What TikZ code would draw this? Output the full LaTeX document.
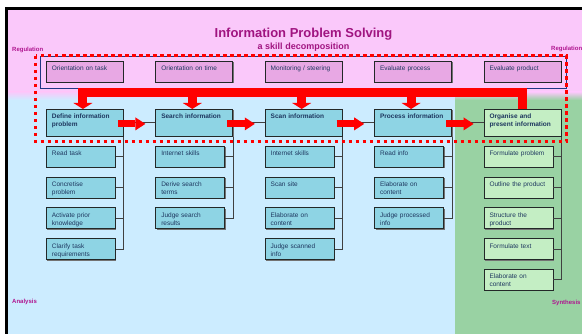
\documentclass[tikz,border=0pt]{standalone}
\usepackage{fontspec}
\setmainfont{Liberation Sans}
\usetikzlibrary{arrows.meta,shadows}
\definecolor{pinkbg}{RGB}{250,200,250}
\definecolor{bluebg}{RGB}{204,236,255}
\definecolor{greenbg}{RGB}{153,210,163}
\definecolor{mainblue}{RGB}{142,212,228}
\definecolor{regpink}{RGB}{232,168,228}
\definecolor{greenbox}{RGB}{196,238,196}
\definecolor{txtc}{RGB}{30,55,95}
\definecolor{titlec}{RGB}{160,20,128}
\definecolor{labelc}{RGB}{176,22,144}
\definecolor{navyc}{RGB}{30,55,130}
\definecolor{boxline}{RGB}{35,40,40}
\begin{document}
\begin{tikzpicture}[x=1pt,y=-1pt,
  box/.style={draw=boxline, line width=0.8pt, anchor=north west, inner xsep=5.5pt, inner ysep=4.5pt,
    align=left, font=\fontsize{6.5}{8}\selectfont, text=txtc, text height=5pt,
    drop shadow={shadow xshift=0.9pt,shadow yshift=-0.9pt,fill=black!55,opacity=1}},
  regbox/.style={box, fill=regpink, text width=66pt, text depth=7pt},
  mainbox/.style={box, fill=mainblue, text width=66pt, text depth=13pt, font=\fontsize{6.5}{8}\selectfont\bfseries},
  orgbox/.style={mainbox, fill=greenbox},
  subbox/.style={box, fill=mainblue, text width=58pt, text depth=7pt},
  gsubbox/.style={subbox, fill=greenbox},
  conn/.style={draw=black!75, line width=0.8pt},
  redarrow/.style={draw=red, line width=7pt, -{Triangle[width=13pt,length=10pt,line width=0pt]}},
  downarrow/.style={draw=red, line width=9pt, -{Triangle[width=19pt,length=6pt,line width=0pt]}},
  redbar/.style={draw=red, line width=9pt, line join=miter},
  sidelbl/.style={font=\fontsize{6}{7}\selectfont\bfseries, text=labelc, inner sep=0pt, anchor=base west}
]
\useasboundingbox (0,0) rectangle (582,334);
% background
\fill[white] (0,0) rectangle (582,334);
\fill[black] (5,7) rectangle (582,334);
\fill[pinkbg] (8,10) rectangle (582,92);
\shade[top color=pinkbg,bottom color=bluebg] (8,92) rectangle (455,100);
\fill[bluebg] (8,100) rectangle (455,334);
\shade[top color=pinkbg,bottom color=greenbg] (455,92) rectangle (582,100);
\fill[greenbg] (455,100) rectangle (582,334);

% titles and side labels
\node[font={\fontsize{13}{15}\selectfont\bfseries}, text=titlec, anchor=base, inner sep=0pt] (title) at (303.5,38) {Information Problem Solving};
\node[font={\fontsize{9}{11}\selectfont\bfseries}, text=titlec, anchor=base, inner sep=0pt] (subtitle) at (303.5,50) {a skill decomposition};
\node[sidelbl] (regl) at (12,52) {Regulation};
\node[sidelbl] (regr) at (551,51) {Regulation};
\node[sidelbl] (anal) at (12,304) {Analysis};
\node[sidelbl] (synt) at (552,305) {Synthesis};

% regulation frame
\draw[navyc, line width=0.8pt] (40,56) rectangle (566,88);

% regulation boxes
\node[regbox] (r1) at (46,61) {Orientation on task};
\node[regbox] (r2) at (155.4,61) {Orientation on time};
\node[regbox] (r3) at (264.8,61) {Monitoring / steering};
\node[regbox] (r4) at (374.2,61) {Evaluate process};
\node[regbox] (r5) at (483.6,61) {Evaluate product};

% main boxes
\node[mainbox] (def) at (46,109) {Define information\\problem};
\node[mainbox] (srch) at (155.4,109) {Search information};
\node[mainbox] (scan) at (264.8,109) {Scan information};
\node[mainbox] (proc) at (374.2,109) {Process information};
\node[orgbox] (org) at (483.6,109) {Organise and\\present information};

% sub boxes
\node[subbox] (d1) at (46,146) {Read task};
\node[subbox] (d2) at (46,177) {Concretise\\problem};
\node[subbox] (d3) at (46,207.5) {Activate prior\\knowledge};
\node[subbox] (d4) at (46,238.3) {Clarify task\\requirements};

\node[subbox] (s1) at (155.4,146) {Internet skills};
\node[subbox] (s2) at (155.4,177) {Derive search\\terms};
\node[subbox] (s3) at (155.4,207.5) {Judge search\\results};

\node[subbox] (c1) at (264.8,146) {Internet skills};
\node[subbox] (c2) at (264.8,177) {Scan site};
\node[subbox] (c3) at (264.8,207.5) {Elaborate on\\content};
\node[subbox] (c4) at (264.8,238.3) {Judge scanned\\info};

\node[subbox] (p1) at (374.2,146) {Read info};
\node[subbox] (p2) at (374.2,177) {Elaborate on\\content};
\node[subbox] (p3) at (374.2,207.5) {Judge processed\\info};

\node[gsubbox] (o1) at (483.6,146) {Formulate problem};
\node[gsubbox] (o2) at (483.6,177) {Outline the product};
\node[gsubbox] (o3) at (483.6,207.5) {Structure the\\product};
\node[gsubbox] (o4) at (483.6,238.3) {Formulate text};
\node[gsubbox] (o5) at (483.6,269) {Elaborate on\\content};

% tree connectors
\foreach \m/\s in {def/d1,def/d2,def/d3,def/d4,srch/s1,srch/s2,srch/s3,scan/c1,scan/c2,scan/c3,scan/c4,proc/p1,proc/p2,proc/p3,org/o1,org/o2,org/o3,org/o4,org/o5}
  \draw[conn] (\m.south east) |- (\s.east);

% process flow
\foreach \a/\b in {def/srch,srch/scan,scan/proc,proc/org}{
  \draw[conn] (\a.east) -- (\b.west);
  \draw[redarrow] ([xshift=-6pt,yshift=-1pt]\a.east) -- ([xshift=-10pt,yshift=-1pt]\b.west);
}

% regulation bar and arrows
\coordinate (barl) at (78,92.5);
\draw[redbar] (barl) -| (org.north);
\foreach \m in {def,srch,scan,proc}
  \draw[downarrow] ([xshift=-2pt]\m.north |- barl) -- ([xshift=-2pt]\m.north);

% dotted regulation boundary
\draw[red, line width=3pt, dash pattern=on 3.5pt off 3.5pt] (35.5,56) rectangle (566.5,142);
\end{tikzpicture}
\end{document}
